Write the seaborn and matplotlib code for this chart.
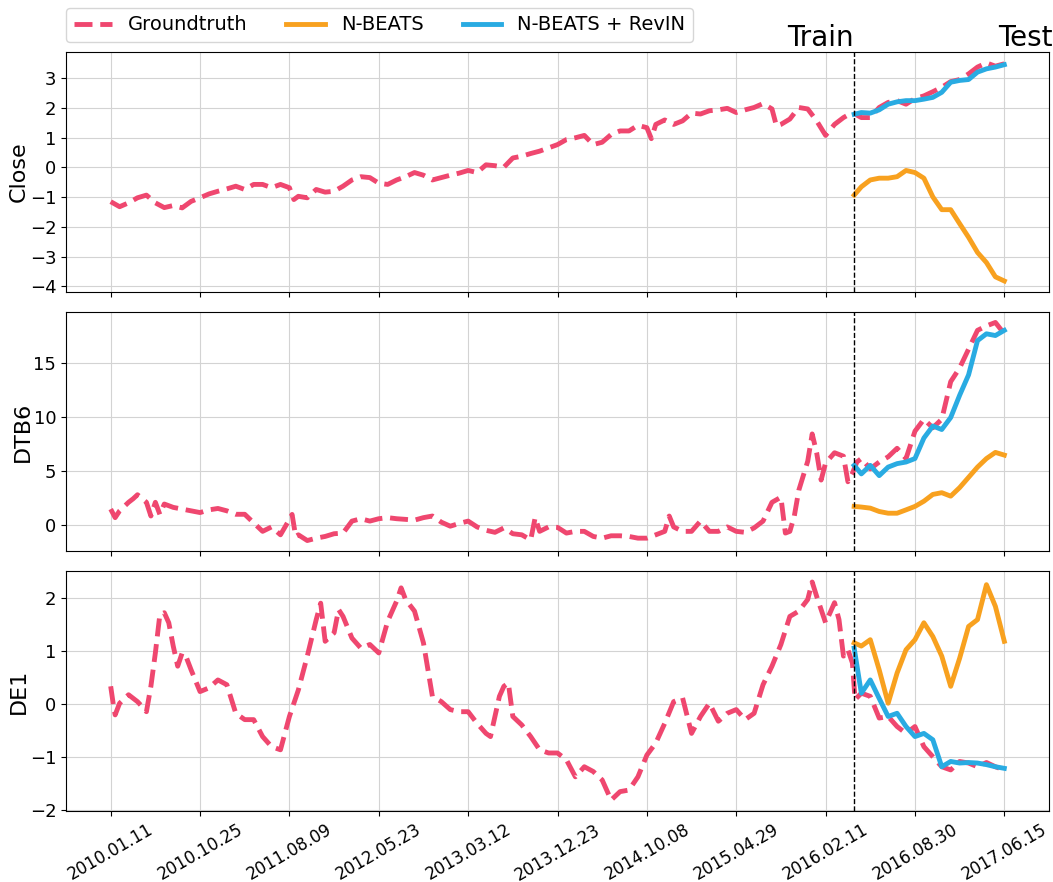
import numpy as np
import pandas as pd
import matplotlib
matplotlib.use("Agg")
import matplotlib.pyplot as plt
import matplotlib.transforms as mtransforms
from matplotlib.ticker import MultipleLocator
import seaborn as sns

# ---- x axis: trading-step index, labelled with calendar dates ----
tick_steps = [0, 100, 200, 300, 400, 500, 600, 700, 800, 900, 1000]
tick_dates = ["2010.01.11", "2010.10.25", "2011.08.09", "2012.05.23", "2013.03.12",
              "2013.12.23", "2014.10.08", "2015.04.29", "2016.02.11", "2016.08.30",
              "2017.06.15"]
split_step = 832

# ---- Close ----
close_step = [0, 10, 20, 30, 40, 50, 60, 70, 80, 90, 100, 110, 120, 130, 140, 150, 160, 170,
              180, 190, 200, 205, 210, 220, 230, 240, 250, 260, 270, 280, 290, 300, 310, 320,
              330, 340, 350, 360, 370, 380, 390, 400, 410, 420, 430, 440, 450, 460, 470, 480,
              490, 500, 510, 520, 530, 540, 550, 560, 570, 580, 590, 600, 605, 610, 620, 630,
              640, 650, 660, 670, 680, 690, 700, 710, 720, 730, 740, 745, 750, 760, 770, 780,
              790, 800, 810, 820, 830, 840, 850, 860, 870, 880, 890, 900, 910, 920, 930, 940,
              950, 960, 970, 980, 990, 1000]
close_gt = [-1.15, -1.32, -1.19, -1.02, -0.93, -1.19, -1.35, -1.28, -1.36, -1.14, -1.02, -0.89,
            -0.80, -0.72, -0.63, -0.74, -0.57, -0.57, -0.68, -0.57, -0.68, -1.08, -0.97, -1.02,
            -0.74, -0.83, -0.80, -0.63, -0.42, -0.31, -0.34, -0.53, -0.57, -0.42, -0.31, -0.17,
            -0.26, -0.42, -0.34, -0.26, -0.19, -0.10, -0.17, 0.09, 0.06, 0.01, 0.32, 0.38, 0.47,
            0.55, 0.66, 0.77, 0.94, 1.00, 1.08, 0.77, 0.85, 1.11, 1.23, 1.23, 1.42, 1.34, 0.97,
            1.45, 1.60, 1.45, 1.57, 1.83, 1.80, 1.91, 1.94, 1.99, 1.85, 1.94, 2.02, 2.15, 1.97,
            1.40, 1.45, 1.63, 2.02, 1.97, 1.57, 1.08, 1.45, 1.68, 1.85, 1.68, 1.68, 2.02, 2.19,
            2.25, 2.13, 2.32, 2.41, 2.55, 2.70, 2.89, 2.96, 3.15, 3.38, 3.52, 3.41, 3.49]

# ---- DTB6 ----
dtb6_step = [0, 5, 10, 20, 25, 30, 40, 45, 50, 55, 60, 70, 80, 90, 100, 110, 120, 130, 140,
             150, 160, 170, 180, 190, 200, 203, 207, 210, 220, 230, 240, 250, 260, 270, 280,
             290, 300, 310, 320, 330, 340, 350, 360, 370, 380, 390, 400, 410, 420, 430, 440,
             450, 460, 470, 475, 480, 490, 500, 510, 520, 530, 540, 550, 560, 570, 580, 590,
             600, 610, 620, 625, 630, 640, 650, 660, 670, 680, 690, 700, 710, 720, 730, 740,
             750, 755, 760, 765, 770, 780, 785, 790, 795, 800, 810, 820, 825, 830, 835, 840,
             850, 860, 870, 880, 890, 900, 910, 920, 930, 940, 950, 960, 970, 980, 990, 1000]
dtb6_gt = [1.49, 0.70, 1.33, 2.12, 2.44, 2.82, 2.12, 0.85, 2.12, 1.00, 1.96, 1.65, 1.49, 1.33,
           1.17, 1.42, 1.55, 1.33, 1.01, 1.01, 0.22, -0.57, -0.16, -0.89, 0.54, 1.00, -1.04,
           -0.89, -1.42, -1.20, -1.04, -0.79, -0.73, 0.38, 0.60, 0.38, 0.60, 0.70, 0.60, 0.54,
           0.47, 0.70, 0.85, 0.28, -0.09, 0.16, 0.38, -0.16, -0.47, -0.66, -0.25, -0.79, -0.89,
           -1.36, 0.70, -0.57, -0.16, -0.20, -0.73, -0.57, -0.57, -1.04, -1.20, -0.98, -0.98,
           -1.04, -1.20, -1.20, -0.89, -0.57, 0.85, -0.16, -0.57, -0.57, 0.38, -0.57, -0.57,
           -0.16, -0.57, -0.66, -0.25, 0.38, 2.12, 2.59, -0.73, -0.57, 0.85, 3.23, 5.92, 8.45,
           6.71, 4.18, 5.76, 6.71, 6.39, 4.02, 4.81, 5.85, 6.17, 5.22, 5.85, 6.33, 7.12, 6.17,
           8.70, 9.81, 9.02, 9.81, 13.29, 14.56, 16.30, 18.04, 18.45, 18.77, 17.72]

# ---- DE1 ----
de1_step = [0, 3, 5, 10, 20, 30, 35, 40, 45, 50, 55, 60, 65, 70, 75, 80, 85, 90, 100, 110,
            120, 130, 140, 150, 160, 170, 180, 190, 200, 210, 220, 230, 235, 240, 250, 255,
            260, 270, 280, 290, 300, 310, 320, 325, 330, 340, 350, 360, 370, 380, 390, 400,
            410, 420, 425, 430, 435, 440, 445, 450, 460, 470, 480, 490, 500, 510, 520, 530,
            540, 550, 560, 570, 580, 590, 600, 610, 620, 630, 640, 650, 660, 670, 680, 690,
            700, 710, 720, 730, 740, 750, 760, 770, 780, 785, 790, 800, 810, 815, 820, 825,
            830, 833, 840, 850, 860, 870, 880, 890, 900, 910, 920, 930, 940, 950, 960, 970,
            980, 990, 1000]
de1_gt = [0.33, -0.02, -0.21, 0.01, 0.17, 0.04, -0.05, -0.15, 0.33, 0.96, 1.68, 1.72, 1.53,
          1.09, 0.71, 0.96, 0.86, 0.64, 0.23, 0.30, 0.45, 0.36, -0.18, -0.30, -0.30, -0.62,
          -0.81, -0.87, -0.24, 0.26, 0.90, 1.59, 1.90, 1.18, 1.34, 1.78, 1.65, 1.24, 1.05,
          1.12, 0.96, 1.56, 1.94, 2.19, 1.97, 1.75, 1.15, 0.14, 0.04, -0.11, -0.15, -0.15,
          -0.37, -0.56, -0.62, -0.24, 0.14, 0.33, 0.39, -0.24, -0.40, -0.62, -0.87, -0.93,
          -0.93, -1.06, -1.38, -1.19, -1.28, -1.44, -1.82, -1.66, -1.63, -1.38, -0.97, -0.74,
          -0.37, 0.04, 0.11, -0.56, -0.24, 0.01, -0.33, -0.18, -0.11, -0.30, -0.18, 0.36,
          0.71, 1.12, 1.65, 1.75, 1.97, 2.30, 2.03, 1.53, 1.91, 1.59, 0.90, 1.02, 0.77, 0.08,
          0.20, 0.14, -0.27, -0.24, -0.43, -0.56, -0.43, -0.81, -1.00, -1.19, -1.25, -1.09,
          -1.12, -1.19, -1.11, -1.19, -1.25]

# ---- model forecasts over the test span ----
test_step = [832, 840, 850, 860, 870, 880, 890, 900, 910, 920, 930, 940, 950, 960, 970, 980,
             990, 1000]
close_nbeats = [-0.93, -0.65, -0.42, -0.36, -0.36, -0.31, -0.10, -0.17, -0.36, -0.99, -1.42,
                -1.42, -1.89, -2.35, -2.86, -3.20, -3.68, -3.82]
close_revin = [1.79, 1.85, 1.83, 1.94, 2.13, 2.21, 2.25, 2.25, 2.30, 2.36, 2.53, 2.87, 2.93,
               2.96, 3.21, 3.32, 3.38, 3.46]
dtb6_nbeats = [1.74, 1.68, 1.58, 1.27, 1.11, 1.11, 1.42, 1.74, 2.22, 2.85, 3.01, 2.69, 3.48,
               4.43, 5.38, 6.17, 6.74, 6.49]
dtb6_revin = [5.54, 4.75, 5.54, 4.59, 5.38, 5.70, 5.85, 6.17, 8.07, 9.18, 8.86, 9.97, 12.03,
              13.92, 17.09, 17.72, 17.56, 18.04]
de1_nbeats = [1.15, 1.09, 1.21, 0.64, 0.01, 0.58, 1.02, 1.21, 1.53, 1.27, 0.90, 0.33, 0.86,
              1.46, 1.59, 2.25, 1.84, 1.18]
de1_revin = [1.05, 0.20, 0.45, 0.10, -0.24, -0.18, -0.43, -0.62, -0.56, -0.68, -1.19, -1.09,
             -1.12, -1.11, -1.12, -1.15, -1.19, -1.22]

PINK = "#EF476F"
ORANGE = "#F8A11F"
BLUE = "#29ABE2"

panels = [
    ("Close", close_step, close_gt, close_nbeats, close_revin),
    ("DTB6", dtb6_step, dtb6_gt, dtb6_nbeats, dtb6_revin),
    ("DE1", de1_step, de1_gt, de1_nbeats, de1_revin),
]

fig, axes = plt.subplots(3, 1, figsize=(10.53, 8.82), dpi=100, sharex=True)
fig.subplots_adjust(left=66 / 1053, right=1049 / 1053, top=1 - 52 / 882,
                    bottom=1 - 811 / 882, hspace=0.082)

for ax, (name, steps, gt, nbeats, revin) in zip(axes, panels):
    ax.grid(True, color="#d3d3d3", linewidth=0.8)
    ax.set_axisbelow(True)
    sns.lineplot(x=steps, y=gt, ax=ax, color=PINK, linewidth=3.5, linestyle="--",
                 estimator=None, label="Groundtruth", legend=False)
    sns.lineplot(x=test_step, y=nbeats, ax=ax, color=ORANGE, linewidth=3.5,
                 estimator=None, label="N-BEATS", legend=False)
    sns.lineplot(x=test_step, y=revin, ax=ax, color=BLUE, linewidth=3.5,
                 estimator=None, label="N-BEATS + RevIN", legend=False)
    ax.axvline(split_step, color="black", linestyle="--", linewidth=1.0)
    ax.set_ylabel(name, fontsize=16, labelpad=0.5)
    ax.tick_params(axis="y", labelsize=13)
    ax.tick_params(axis="x", labelsize=12)

axes[0].yaxis.set_major_locator(MultipleLocator(1))

axes[-1].set_xticks(tick_steps)
axes[-1].set_xticklabels(tick_dates, rotation=30, ha="center", fontsize=12)

top = axes[0]
trans = mtransforms.blended_transform_factory(top.transData, top.transAxes)
top.text(split_step, 1.0, "Train", transform=trans, ha="right", va="bottom", fontsize=20)
top.text(993, 1.0, "Test", transform=trans, ha="left", va="bottom", fontsize=20)

handles, labels = top.get_legend_handles_labels()
fig.legend(handles, labels, loc="upper left", bbox_to_anchor=(56 / 1053, 1 + 2 / 882),
           ncol=3, fontsize=14, frameon=True)

fig.savefig("out.png", dpi=100)
